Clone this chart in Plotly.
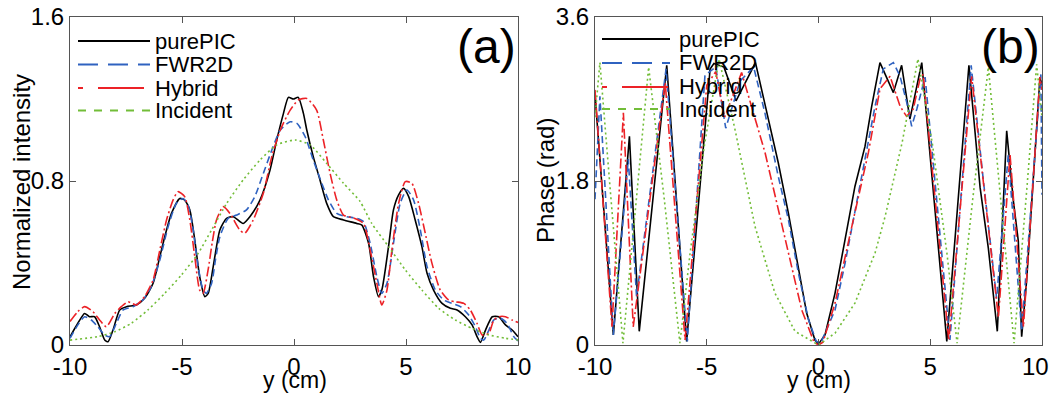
import plotly.graph_objects as go

W, H = 1051, 394
FONT = "Liberation Sans, Arial, sans-serif"

# ---------------- (a) Normalized intensity ----------------
int_pic_x = [-10, -9.65, -9.35, -9.13, -8.9, -8.68, -8.45, -8.3, -8.08, -7.78, -7.48, -7.04, -6.67,
             -6.29, -5.99, -5.77, -5.47, -5.1, -4.88, -4.65, -4.43, -4.21, -3.98, -3.83, -3.61, -3.31,
             -3.01, -2.71, -2.27, -1.97, -1.52, -1.07, -0.77, -0.47, -0.25, -0.03, 0.19, 0.42, 0.57,
             0.86, 1.16, 1.46, 1.76, 2.21, 2.8, 3.03, 3.33, 3.55, 3.77, 3.92, 4.22, 4.44, 4.67, 4.89,
             5.12, 5.41, 5.71, 5.94, 6.23, 6.61, 6.98, 7.28, 7.65, 7.95, 8.17, 8.32, 8.55, 8.85, 9.14,
             9.44, 9.74, 10]
int_pic_y = [0.04, 0.106, 0.154, 0.138, 0.138, 0.089, 0.024, 0.016, 0.073, 0.171, 0.187, 0.195, 0.228,
             0.301, 0.431, 0.528, 0.642, 0.715, 0.707, 0.659, 0.512, 0.333, 0.236, 0.252, 0.38, 0.561,
             0.618, 0.626, 0.593, 0.626, 0.707, 0.854, 1.0, 1.13, 1.208, 1.20, 1.208, 1.13, 1.049,
             0.919, 0.805, 0.691, 0.626, 0.61, 0.593, 0.585, 0.496, 0.333, 0.236, 0.268, 0.48, 0.659,
             0.732, 0.764, 0.724, 0.61, 0.48, 0.35, 0.268, 0.203, 0.179, 0.171, 0.138, 0.098, 0.041,
             0.013, 0.073, 0.138, 0.138, 0.098, 0.073, 0.04]

int_fwr_x = [-10, -9.65, -9.35, -9.05, -8.76, -8.45, -8.23, -7.93, -7.63, -7.19, -6.74, -6.37, -5.99,
             -5.62, -5.25, -4.95, -4.73, -4.5, -4.28, -4.06, -3.91, -3.68, -3.5, -3.31, -2.94, -2.56,
             -2.12, -1.75, -1.37, -0.99, -0.61, -0.17, 0.13, 0.5, 0.86, 1.24, 1.54, 1.91, 2.35, 2.8,
             3.1, 3.4, 3.7, 3.92, 4.15, 4.44, 4.74, 5.04, 5.34, 5.64, 5.94, 6.31, 6.68, 7.06, 7.43,
             7.8, 8.1, 8.32, 8.47, 8.7, 8.92, 9.22, 9.51, 9.81, 10]
int_fwr_y = [0.033, 0.098, 0.138, 0.122, 0.089, 0.049, 0.041, 0.106, 0.171, 0.187, 0.22, 0.285, 0.415,
             0.577, 0.691, 0.715, 0.683, 0.561, 0.382, 0.268, 0.252, 0.30, 0.42, 0.528, 0.618, 0.634,
             0.659, 0.724, 0.837, 0.951, 1.049, 1.089, 1.081, 1.016, 0.902, 0.789, 0.707, 0.642, 0.626,
             0.618, 0.602, 0.496, 0.333, 0.252, 0.301, 0.496, 0.691, 0.756, 0.707, 0.561, 0.382, 0.268,
             0.22, 0.203, 0.187, 0.146, 0.089, 0.033, 0.024, 0.073, 0.122, 0.13, 0.106, 0.041, 0.02]

int_hyb_x = [-10, -9.65, -9.35, -8.98, -8.68, -8.38, -8.0, -7.71, -7.41, -7.04, -6.67, -6.29, -5.99,
             -5.69, -5.4, -5.18, -4.88, -4.65, -4.43, -4.21, -4.06, -3.83, -3.65, -3.46, -3.16, -2.86,
             -2.42, -2.2, -1.82, -1.37, -0.99, -0.61, -0.17, 0.19, 0.57, 1.01, 1.31, 1.61, 1.91, 2.21,
             2.65, 3.1, 3.4, 3.7, 3.92, 4.15, 4.37, 4.67, 4.97, 5.26, 5.56, 5.86, 6.16, 6.53, 6.9, 7.2,
             7.58, 7.87, 8.17, 8.4, 8.7, 8.92, 9.14, 9.44, 9.74, 10]
int_hyb_y = [0.115, 0.163, 0.187, 0.163, 0.122, 0.089, 0.154, 0.187, 0.211, 0.195, 0.236, 0.317, 0.463,
             0.61, 0.707, 0.748, 0.724, 0.61, 0.431, 0.268, 0.252, 0.37, 0.50, 0.61, 0.675, 0.642,
             0.561, 0.545, 0.61, 0.74, 0.919, 1.049, 1.146, 1.195, 1.203, 1.146, 1.0, 0.838, 0.707,
             0.634, 0.62, 0.593, 0.463, 0.301, 0.195, 0.268, 0.463, 0.691, 0.797, 0.789, 0.691, 0.545,
             0.398, 0.268, 0.22, 0.211, 0.203, 0.171, 0.106, 0.049, 0.057, 0.122, 0.138, 0.138, 0.122,
             0.11]

int_inc_x = [-10, -8.76, -8.0, -7.26, -6.52, -5.77, -5.03, -4.28, -3.68, -3.01, -2.27, -1.52, -0.77,
             0.05, 0.72, 1.46, 2.21, 2.95, 3.47, 4.22, 4.97, 5.71, 6.46, 7.2, 7.95, 8.7, 9.44, 10]
int_inc_y = [0.024, 0.041, 0.065, 0.106, 0.171, 0.252, 0.341, 0.447, 0.561, 0.69, 0.805, 0.902, 0.976,
             1.0, 0.976, 0.886, 0.789, 0.70, 0.593, 0.48, 0.366, 0.268, 0.179, 0.122, 0.081, 0.049,
             0.033, 0.025]

# ---------------- (b) Phase ----------------
ph_pic_x = [-10, -9.18, -8.46, -8.02, -6.79, -5.9, -4.85, -4.68, -4.23, -3.69, -2.82, -2.24, -1.8,
            -1.35, -0.9, -0.53, -0.16, 0.0, 0.29, 0.74, 1.19, 1.63, 2.08, 2.38, 2.75, 3.35, 3.72, 4.09,
            4.62, 5.74, 6.73, 7.23, 7.6, 8.0, 8.42, 8.72, 8.94, 9.09, 9.31, 9.61, 9.91, 10]
ph_pic_y = [2.75, 0.11, 2.29, 0.15, 3.07, 0.04, 3.03, 3.09, 3.05, 2.68, 3.10, 2.48, 2.0,
            1.45, 0.86, 0.35, 0.055, 0.01, 0.11, 0.57, 1.16, 1.74, 2.18, 2.62, 3.10, 2.77, 3.07, 2.48,
            3.10, 0.04, 3.07, 1.73, 1.06, 0.15, 2.35, 1.58, 1.14, 0.09, 0.70, 1.87, 2.94, 2.85]

ph_fwr_x = [-10, -9.78, -9.18, -8.51, -8.14, -6.82, -5.87, -5.08, -4.6, -4.15, -3.5, -2.9, -2.4, -1.8,
            -1.35, -0.9, -0.45, -0.1, 0.1, 0.5, 0.74, 1.19, 1.63, 2.08, 2.53, 2.9, 3.35, 3.65, 3.95,
            4.17, 4.4, 4.77, 5.88, 6.83, 7.37, 7.97, 8.49, 9.09, 9.95, 10]
ph_fwr_y = [1.6, 2.73, 0.11, 2.04, 0.53, 3.03, 0.04, 2.96, 3.05, 2.38, 2.9, 3.05, 2.55, 1.85,
            1.38, 0.79, 0.28, 0.04, 0.02, 0.25, 0.385, 0.9, 1.45, 2.04, 2.62, 3.03, 3.10, 2.95, 2.66,
            2.40, 2.59, 2.94, 0.055, 3.07, 1.82, 0.51, 2.09, 0.15, 2.97, 1.65]

ph_hyb_x = [-10, -9.24, -8.73, -8.29, -6.86, -5.97, -5.0, -4.6, -4.2, -3.67, -3.44, -2.39, -1.5, -0.75,
            -0.2, 0.0, 0.2, 0.74, 1.49, 2.23, 2.75, 3.2, 3.65, 3.94, 4.24, 4.54, 4.68, 5.83, 6.85, 8.05,
            8.57, 9.17, 9.91, 10]
ph_hyb_y = [2.8, 0.2, 2.55, 0.2, 2.88, 0.055, 2.85, 3.0, 2.5, 2.85, 2.99, 2.11, 1.19, 0.385,
            0.03, 0.0, 0.03, 0.46, 1.30, 2.11, 2.81, 2.95, 2.62, 2.51, 2.59, 2.92, 2.97, 0.05, 2.95, 0.3,
            2.09, 0.2, 2.94, 2.8]

ph_inc_x = [-10, -9.78, -9.33, -8.75, -8.15, -7.6, -6.9, -6.2, -5.75, -5.1, -4.45, -3.74, -2.84, -1.95,
            -1.05, 0, 0.74, 1.63, 2.53, 2.98, 3.74, 4.45, 5.1, 5.75, 6.2, 6.9, 7.6, 8.15, 8.75, 9.33,
            9.76, 10]
ph_inc_y = [2.5, 3.1, 1.74, 0.02, 1.6, 3.05, 1.6, 0.02, 1.0, 2.2, 3.14, 2.37, 1.30, 0.57,
            0.15, 0.0, 0.13, 0.46, 1.01, 1.41, 2.22, 3.14, 2.2, 1.0, 0.02, 1.6, 3.05, 1.6, 0.02, 1.74,
            3.08, 2.5]

series_names = ["purePIC", "FWR2D", "Hybrid", "Incident"]
colors = ["#000000", "#2f62c0", "#ec2227", "#72bd38"]
dashes = ["solid", "7px,4px", "10px,3px,2px,3px", "2px,3px"]
legend_dashes = ["solid", "20px,10px", "5px,15px,46px,15px", "8px,8px"]

x_ticks = [-10, -5, 0, 5, 10]
x_ticktext_a = ["-10", "-5", "0", "5", "10"]
x_ticktext_b = ["-10", "-5", "0", "5", "10&nbsp;&nbsp;"]
int_ticks = [0, 0.8, 1.6]
int_ticktext = ["0", "0.8", "1.6"]
ph_ticks = [0, 1.8, 3.6]
ph_ticktext = ["0", "1.8", "3.6"]

fig = go.Figure()

int_data = [(int_pic_x, int_pic_y), (int_fwr_x, int_fwr_y), (int_hyb_x, int_hyb_y), (int_inc_x, int_inc_y)]
ph_data = [(ph_pic_x, ph_pic_y), (ph_fwr_x, ph_fwr_y), (ph_hyb_x, ph_hyb_y), (ph_inc_x, ph_inc_y)]

for (xs, ys), name, c, d in zip(int_data, series_names, colors, dashes):
    fig.add_trace(go.Scatter(x=xs, y=ys, mode="lines", name=name, showlegend=False,
                             line=dict(color=c, width=1.6, dash=d, shape="spline", smoothing=0.6),
                             xaxis="x", yaxis="y"))
for (xs, ys), name, c, d in zip(ph_data, series_names, colors, dashes):
    fig.add_trace(go.Scatter(x=xs, y=ys, mode="lines", name=name, showlegend=False,
                             line=dict(color=c, width=1.6, dash=d),
                             xaxis="x2", yaxis="y2"))

def px(x):
    return x / W

def py(y):
    return 1 - y / H

axis_common = dict(showline=True, mirror="ticks", linecolor="#555555", linewidth=1,
                   ticks="inside", ticklen=6, tickcolor="#555555", showgrid=False, zeroline=False,
                   automargin=False, ticklabeloverflow="allow",
                   tickfont=dict(family=FONT, size=24, color="black"))

ydom = [py(345), py(17)]
fig.update_layout(
    width=W, height=H, margin=dict(l=0, r=0, t=0, b=0, pad=0, autoexpand=False),
    paper_bgcolor="white", plot_bgcolor="white", showlegend=False,
    xaxis=dict(domain=[px(70), px(518)], range=[-10, 10], tickvals=x_ticks, ticktext=x_ticktext_a,
               anchor="y", **axis_common),
    yaxis=dict(domain=ydom, range=[0, 1.6], tickvals=int_ticks, ticktext=int_ticktext, anchor="x", **axis_common),
    xaxis2=dict(domain=[px(595), px(1042)], range=[-10, 10], tickvals=x_ticks, ticktext=x_ticktext_b,
                anchor="y2", **axis_common),
    yaxis2=dict(domain=ydom, range=[0, 3.6], tickvals=ph_ticks, ticktext=ph_ticktext, anchor="x2", **axis_common),
)

annotations = []
shapes = []
TXT = dict(xref="paper", yref="paper", showarrow=False, xanchor="center", yanchor="middle")
# axis titles
annotations.append(dict(text="Normalized intensity", x=px(22), y=py(182), textangle=-90,
                        font=dict(family=FONT, size=24, color="black"), **TXT))
annotations.append(dict(text="Phase (rad)", x=px(545), y=py(181), textangle=-90,
                        font=dict(family=FONT, size=24, color="black"), **TXT))
annotations.append(dict(text="y (cm)", x=px(295), y=py(380), borderpad=0,
                        font=dict(family=FONT, size=23, color="black"), **TXT))
annotations.append(dict(text="y (cm)", x=px(819), y=py(380), borderpad=0,
                        font=dict(family=FONT, size=23, color="black"), **TXT))
# panel labels
annotations.append(dict(text="(a)", x=px(486), y=py(46),
                        font=dict(family=FONT, size=48, color="black"), **TXT))
annotations.append(dict(text="(b)", x=px(1010), y=py(47),
                        font=dict(family=FONT, size=48, color="black"), **TXT))

# legends (drawn as layout decorations)
legend_specs = [
    (78, 150, 153, [41, 64.5, 88, 110.5]),
    (602, 670, 677, [39, 63, 87, 109]),
]
for x0, x1, xt, rows in legend_specs:
    for name, c, d, ry in zip(series_names, colors, legend_dashes, rows):
        shapes.append(dict(type="line", xref="paper", yref="paper", x0=px(x0), x1=px(x1),
                           y0=py(ry), y1=py(ry), line=dict(color=c, width=2.2, dash=d)))
        annotations.append(dict(text=name, x=px(xt), y=py(ry), xref="paper", yref="paper",
                                xanchor="left", yanchor="middle", showarrow=False,
                                font=dict(family=FONT, size=22, color="black")))

fig.update_layout(annotations=annotations, shapes=shapes)
fig.write_html("out.html")
